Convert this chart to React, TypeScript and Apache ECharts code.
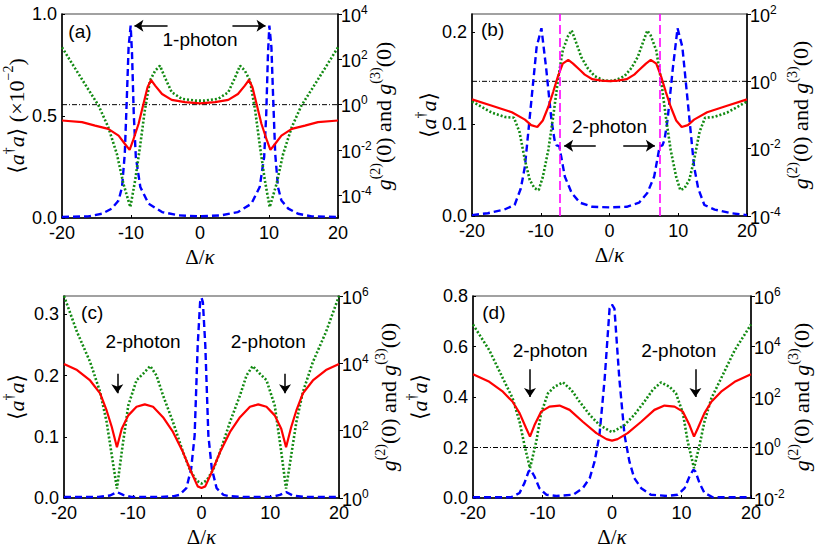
import React, { useEffect, useRef } from 'react';
import * as echarts from 'echarts';

// ---------- Panel (a) ----------
const aRedX = [-20, -17.1, -15.2, -13.3, -11.8, -10.9, -10.2, -9.7, -8.9, -8.2, -7.6, -7.1, -6.5, -5.5, -4.1, -2.2, 0, 2.2, 4.1, 5.5, 6.5, 7.1, 7.6, 8.2, 8.9, 9.7, 10.2, 10.9, 11.8, 13.3, 15.2, 17.1, 20];
const aRedY = [0.478, 0.470, 0.453, 0.437, 0.404, 0.364, 0.334, 0.380, 0.462, 0.559, 0.641, 0.677, 0.649, 0.608, 0.579, 0.568, 0.562, 0.568, 0.579, 0.608, 0.649, 0.677, 0.641, 0.559, 0.462, 0.380, 0.334, 0.364, 0.404, 0.437, 0.453, 0.470, 0.478];
const aGreenX = [-20, -18.1, -16.2, -14.7, -13.3, -12.05, -11.1, -10.1, -9.4, -8.7, -8.0, -7.25, -6.5, -5.8, -5.1, -4.1, -2.65, -0.7, 0.7, 2.65, 4.1, 5.1, 5.8, 6.5, 7.25, 8.0, 8.7, 9.4, 10.1, 11.1, 12.05, 13.3, 14.7, 16.2, 18.1, 20];
const aGreenLog = [2.53, 1.60, 0.68, -0.04, -0.99, -2.17, -3.49, -4.52, -3.34, -1.87, -0.26, 1.06, 1.5, 1.72, 1.21, 0.55, 0.26, 0.18, 0.18, 0.26, 0.55, 1.21, 1.72, 1.5, 1.06, -0.26, -1.87, -3.34, -4.52, -3.49, -2.17, -0.99, -0.04, 0.68, 1.60, 2.53];
const aBlueX = [-20, -16.2, -14.2, -12.8, -11.8, -11.3, -10.9, -10.6, -10.35, -10.05, -9.85, -9.6, -9.3, -8.65, -7.45, -5.5, -3.1, 0, 3.1, 5.5, 7.45, 8.65, 9.3, 9.6, 9.85, 10.05, 10.35, 10.6, 10.9, 11.3, 11.8, 12.8, 14.2, 16.2, 20];
const aBlueY = [0.005, 0.008, 0.021, 0.046, 0.086, 0.152, 0.315, 0.592, 0.837, 0.943, 0.804, 0.51, 0.299, 0.152, 0.07, 0.029, 0.013, 0.008, 0.013, 0.029, 0.07, 0.152, 0.299, 0.51, 0.804, 0.943, 0.837, 0.592, 0.315, 0.152, 0.086, 0.046, 0.021, 0.008, 0.005];

// ---------- Panel (b) ----------
const bRedX = [-20, -17.1, -14.2, -12.3, -11.4, -10.5, -9.7, -8.9, -8.2, -7.5, -6.8, -6.0, -5.3, -4.3, -3.6, -2.5, -1.2, 0, 1.2, 2.5, 3.6, 4.3, 5.3, 6.0, 6.8, 7.5, 8.2, 8.9, 9.7, 10.5, 11.4, 12.3, 14.2, 17.1, 20];
const bRedY = [0.127, 0.120, 0.113, 0.105, 0.099, 0.097, 0.104, 0.119, 0.135, 0.152, 0.166, 0.170, 0.166, 0.159, 0.154, 0.149, 0.1475, 0.147, 0.1475, 0.149, 0.154, 0.159, 0.166, 0.170, 0.166, 0.152, 0.135, 0.119, 0.104, 0.097, 0.099, 0.105, 0.113, 0.120, 0.127];
const bGreenX = [-20, -17.1, -15.2, -13.9, -13.1, -12.3, -11.6, -10.9, -10.3, -9.7, -8.9, -8.2, -7.5, -6.8, -6.0, -5.5, -4.8, -4.1, -3.2, -2.2, -1.0, 0, 1.0, 2.2, 3.2, 4.1, 4.8, 5.5, 6.0, 6.8, 7.5, 8.2, 8.9, 9.7, 10.3, 10.9, 11.6, 12.3, 13.1, 13.9, 15.2, 17.1, 20];
const bGreenLog = [-0.6, -0.93, -1.06, -1.08, -1.5, -2.34, -2.93, -3.18, -3.23, -2.84, -2.04, -1.06, 0.03, 0.92, 1.36, 1.51, 1.12, 0.72, 0.40, 0.16, 0.04, 0.01, 0.04, 0.16, 0.40, 0.72, 1.12, 1.51, 1.36, 0.92, 0.03, -1.06, -2.04, -2.84, -3.23, -3.18, -2.93, -2.34, -1.5, -1.08, -1.06, -0.93, -0.6];
const bBlueX = [-20, -17.7, -15.3, -13.8, -12.9, -12.3, -11.4, -10.6, -9.9, -9.2, -8.45, -8.0, -7.7, -7.3, -6.5, -5.5, -4.3, -2.5, 0, 2.5, 4.3, 5.5, 6.5, 7.3, 7.7, 8.0, 8.45, 9.2, 9.9, 10.6, 11.4, 12.3, 12.9, 13.8, 15.3, 17.7, 20];
const bBlueY = [0.001, 0.003, 0.007, 0.012, 0.03, 0.054, 0.123, 0.184, 0.2045, 0.16, 0.105, 0.083, 0.077, 0.076, 0.043, 0.025, 0.0145, 0.010, 0.0094, 0.010, 0.0145, 0.025, 0.043, 0.076, 0.077, 0.083, 0.105, 0.16, 0.2045, 0.184, 0.123, 0.054, 0.03, 0.012, 0.007, 0.003, 0.001];
const bResonanceX = [-7.3, 7.3];

// ---------- Panel (c) ----------
const cRedX = [-20, -18.1, -16.2, -14.75, -13.8, -13.05, -12.3, -11.6, -10.65, -9.45, -8.25, -7.05, -5.6, -4.15, -2.7, -1.5, -0.55, 0, 0.55, 1.5, 2.7, 4.15, 5.6, 7.05, 8.25, 9.45, 10.65, 11.6, 12.3, 13.05, 13.8, 14.75, 16.2, 18.1, 20];
const cRedY = [0.219, 0.209, 0.192, 0.171, 0.143, 0.116, 0.083, 0.113, 0.135, 0.149, 0.153, 0.149, 0.132, 0.108, 0.075, 0.0425, 0.019, 0.0165, 0.019, 0.0425, 0.075, 0.108, 0.132, 0.149, 0.153, 0.149, 0.135, 0.113, 0.083, 0.116, 0.143, 0.171, 0.192, 0.209, 0.219];
const cGreenX = [-20, -18.1, -16.2, -14.75, -13.8, -13.05, -12.3, -11.6, -10.65, -9.45, -8.5, -7.45, -6.55, -5.6, -4.15, -2.7, -1.75, -0.8, 0, 0.8, 1.75, 2.7, 4.15, 5.6, 6.55, 7.45, 8.5, 9.45, 10.65, 11.6, 12.3, 13.05, 13.8, 14.75, 16.2, 18.1, 20];
const cGreenLog = [6.0, 4.93, 4.04, 3.15, 2.26, 1.27, 0.28, 1.37, 2.75, 3.5, 3.69, 3.92, 3.64, 3.05, 2.26, 1.37, 0.87, 0.53, 0.43, 0.53, 0.87, 1.37, 2.26, 3.05, 3.64, 3.92, 3.69, 3.5, 2.75, 1.37, 0.28, 1.27, 2.26, 3.15, 4.04, 4.93, 6.0];
const cBlueX = [-20, -15, -13.3, -12.3, -11.4, -10.2, -6, -4, -3.2, -2.2, -1.5, -1.0, -0.55, -0.2, 0, 0.2, 0.55, 1.0, 1.5, 2.2, 3.2, 4, 6, 10.2, 11.4, 12.3, 13.3, 15, 20];
const cBlueY = [0.0016, 0.0018, 0.004, 0.0098, 0.005, 0.0018, 0.0018, 0.003, 0.005, 0.016, 0.048, 0.102, 0.25, 0.32, 0.327, 0.32, 0.25, 0.102, 0.048, 0.016, 0.005, 0.003, 0.0018, 0.0018, 0.005, 0.0098, 0.004, 0.0018, 0.0016];

// ---------- Panel (d) ----------
const dRedX = [-20, -17.65, -15.7, -14.3, -13.3, -12.35, -11.8, -11.15, -10.2, -9.0, -7.55, -6.1, -4.2, -2.25, -0.8, 0, 0.8, 2.25, 4.2, 6.1, 7.55, 9.0, 10.2, 11.15, 11.8, 12.35, 13.3, 14.3, 15.7, 17.65, 20];
const dRedY = [0.49, 0.460, 0.421, 0.381, 0.336, 0.276, 0.243, 0.289, 0.342, 0.362, 0.366, 0.349, 0.302, 0.257, 0.233, 0.227, 0.233, 0.257, 0.302, 0.349, 0.366, 0.362, 0.342, 0.289, 0.243, 0.276, 0.336, 0.381, 0.421, 0.460, 0.49];
const dGreenX = [-20, -17.65, -15.7, -14.3, -13.3, -12.6, -11.8, -10.9, -10.2, -9.2, -8.25, -7.05, -5.85, -4.65, -3.2, -1.8, -0.35, 0, 0.35, 1.8, 3.2, 4.65, 5.85, 7.05, 8.25, 9.2, 10.2, 10.9, 11.8, 12.6, 13.3, 14.3, 15.7, 17.65, 20];
const dGreenLog = [4.87, 3.85, 2.74, 1.95, 1.02, 0.10, -0.82, 0.23, 1.36, 2.15, 2.41, 2.58, 2.28, 1.81, 1.29, 0.89, 0.66, 0.61, 0.66, 0.89, 1.29, 1.81, 2.28, 2.58, 2.41, 2.15, 1.36, 0.23, -0.82, 0.10, 1.02, 1.95, 2.74, 3.85, 4.87];
const dBlueX = [-20, -14.5, -13.3, -12.6, -12.0, -11.7, -11.15, -10.45, -9.45, -8.0, -5.6, -4.2, -3.2, -2.5, -1.8, -1.05, -0.35, 0, 0.35, 1.05, 1.8, 2.5, 3.2, 4.2, 5.6, 8.0, 9.45, 10.45, 11.15, 11.7, 12.0, 12.6, 13.3, 14.5, 20];
const dBlueY = [0.003, 0.003, 0.02, 0.059, 0.105, 0.112, 0.085, 0.039, 0.013, 0.008, 0.013, 0.039, 0.079, 0.145, 0.25, 0.474, 0.75, 0.766, 0.75, 0.474, 0.25, 0.145, 0.079, 0.039, 0.013, 0.008, 0.013, 0.039, 0.085, 0.112, 0.105, 0.059, 0.02, 0.003, 0.003];

// g = 1 reference level (log10 g = 0)
const unityX = [-20, 20];
const unityLog = [0, 0];

// tick values
const xTicks = [-20, -10, 0, 10, 20];
const aLeftTicks = [0, 0.5, 1.0];
const bLeftTicks = [0, 0.1, 0.2];
const cLeftTicks = [0, 0.1, 0.2, 0.3];
const dLeftTicks = [0, 0.2, 0.4, 0.6, 0.8];
const aRightTicks = [-4, -2, 0, 2, 4];
const bRightTicks = [-4, -2, 0, 2];
const cRightTicks = [0, 2, 4, 6];
const dRightTicks = [-2, 0, 2, 4, 6];

const zip = (xs: number[], ys: number[]) => xs.map((x, i) => [x, ys[i]]);

const SANS = "'Liberation Sans', Arial, Helvetica, sans-serif";
const SERIF = "'Liberation Serif', 'DejaVu Serif', 'Times New Roman', serif";

const RED = '#ff0000';
const GREEN = '#128a12';
const BLUE = '#0000ff';

export default function App() {
  const ref = useRef<HTMLDivElement>(null);

  useEffect(() => {
    if (!ref.current) return;
    const chart = echarts.init(ref.current, null, { renderer: 'svg' });

    const panels = [
      {
        grid: { left: 62, top: 14, width: 276, height: 204 },
        lMax: 1.0, lInt: 0.5, lTicks: aLeftTicks, rMin: -5, rMax: 4, rInt: 1, rTicks: aRightTicks,
        lName: '{r|⟨}{i|a}{s|†}{i|a}{r|⟩ (×10}{s|−2}{r|)}', lGap: 35, rGap: 30,
        red: zip(aRedX, aRedY), green: zip(aGreenX, aGreenLog), blue: zip(aBlueX, aBlueY), unity: true,
        arrows: [[[-4.7, 0.943], [-9.5, 0.943]], [[4.7, 0.943], [9.5, 0.943]]],
        texts: [{ c: [-17.4, 0.914], t: '(a)' }, { c: [0, 0.876], t: '1-photon' }],
        vlines: [] as number[],
      },
      {
        grid: { left: 472, top: 14, width: 275, height: 202 },
        lMax: 0.22, lInt: 0.1, lTicks: bLeftTicks, rMin: -4, rMax: 2, rInt: 2, rTicks: bRightTicks,
        lName: '{r|⟨}{i|a}{s|†}{i|a}{r|⟩}', lGap: 33, rGap: 38,
        red: zip(bRedX, bRedY), green: zip(bGreenX, bGreenLog), blue: zip(bBlueX, bBlueY), unity: true,
        arrows: [[[-2.0, 0.0766], [-6.6, 0.0766]], [[2.0, 0.0766], [6.6, 0.0766]]],
        texts: [{ c: [-17.0, 0.2028], t: '(b)' }, { c: [0, 0.097], t: '2-photon' }],
        vlines: bResonanceX,
      },
      {
        grid: { left: 62, top: 296, width: 277, height: 202 },
        lMax: 0.33, lInt: 0.1, lTicks: cLeftTicks, rMin: 0, rMax: 6, rInt: 2, rTicks: cRightTicks,
        lName: '{r|⟨}{i|a}{s|†}{i|a}{r|⟩}', lGap: 37, rGap: 34,
        red: zip(cRedX, cRedY), green: zip(cGreenX, cGreenLog), blue: zip(cBlueX, cBlueY), unity: false,
        arrows: [[[-12.25, 0.203], [-12.25, 0.171]], [[12.15, 0.203], [12.15, 0.171]]],
        texts: [{ c: [-15.9, 0.3026], t: '(c)' }, { c: [-8.5, 0.255], t: '2-photon' }, { c: [9.7, 0.255], t: '2-photon' }],
        vlines: [] as number[],
      },
      {
        grid: { left: 473, top: 296, width: 278, height: 202 },
        lMax: 0.8, lInt: 0.2, lTicks: dLeftTicks, rMin: -2, rMax: 6, rInt: 2, rTicks: dRightTicks,
        lName: '{r|⟨}{i|a}{s|†}{i|a}{r|⟩}', lGap: 43, rGap: 35,
        red: zip(dRedX, dRedY), green: zip(dGreenX, dGreenLog), blue: zip(dBlueX, dBlueY), unity: true,
        arrows: [[[-11.8, 0.51], [-11.8, 0.40]], [[12.0, 0.51], [12.0, 0.40]]],
        texts: [{ c: [-17.0, 0.734], t: '(d)' }, { c: [-8.9, 0.585], t: '2-photon' }, { c: [9.6, 0.585], t: '2-photon' }],
        vlines: [] as number[],
      },
    ];

    const nameRich = {
      r: { fontFamily: SERIF, fontSize: 22, color: '#000', verticalAlign: 'bottom', padding: [4, 0, 0, 0] },
      i: { fontFamily: SERIF, fontSize: 22, color: '#000', fontStyle: 'italic', verticalAlign: 'bottom', padding: [4, 0, 0, 0] },
      s: { fontFamily: SERIF, fontSize: 14, color: '#000', verticalAlign: 'top' },
    };
    const xNameRich = {
      r: { fontFamily: SERIF, fontSize: 21, color: '#000' },
      i: { fontFamily: SERIF, fontSize: 21, color: '#000', fontStyle: 'italic' },
      g: { fontFamily: SERIF, fontSize: 21, color: '#000' },
    };

    const isTick = (ticks: number[], v: number) => ticks.some((t) => Math.abs(t - v) < 1e-6);

    const xAxis = panels.map((p, i) => ({
      type: 'value',
      gridIndex: i,
      min: -20,
      max: 20,
      interval: 10,
      name: '{g|Δ}{r|/}{i|κ}',
      nameLocation: 'middle',
      nameGap: 28,
      nameMoveOverlap: false,
      nameTextStyle: { fontFamily: SERIF, fontSize: 21, color: '#000', rich: xNameRich },
      axisLine: { show: true, onZero: false, lineStyle: { color: '#000', width: 1.5 } },
      axisTick: { show: true, inside: true, length: 3, lineStyle: { color: '#000', width: 1 } },
      axisLabel: {
        fontFamily: SANS, fontSize: 18, color: '#000', margin: 6,
        formatter: (v: number) => (isTick(xTicks, v) ? String(v) : ''),
      },
      splitLine: { show: false },
    }));

    const yAxis: any[] = [];
    panels.forEach((p, i) => {
      yAxis.push({
        type: 'value',
        gridIndex: i,
        position: 'left',
        min: 0,
        max: p.lMax,
        interval: p.lInt,
        name: p.lName,
        nameLocation: 'middle',
        nameRotate: 90,
        nameGap: p.lGap,
        nameMoveOverlap: false,
        nameTextStyle: { fontFamily: SERIF, fontSize: 22, color: '#000', rich: nameRich },
        axisLine: { show: true, onZero: false, lineStyle: { color: '#000', width: 1.5 } },
        axisTick: { show: true, inside: true, length: 3, customValues: p.lTicks, lineStyle: { color: '#000', width: 1 } },
        axisLabel: {
          fontFamily: SANS, fontSize: 18, color: '#000', margin: 5,
          customValues: p.lTicks,
          formatter: (v: number) => (isTick(p.lTicks, v) ? v.toFixed(1) : ''),
        },
        splitLine: { show: false },
      });
      yAxis.push({
        type: 'value',
        gridIndex: i,
        position: 'right',
        min: p.rMin,
        max: p.rMax,
        interval: p.rInt,
        name: '{i|g}{s|(2)}{r|(0) and }{i|g}{s|(3)}{r|(0)}',
        nameLocation: 'middle',
        nameRotate: 90,
        nameGap: p.rGap,
        nameMoveOverlap: false,
        nameTextStyle: { fontFamily: SERIF, fontSize: 21, color: '#000', rich: nameRich },
        axisLine: { show: true, onZero: false, lineStyle: { color: '#000', width: 1.5 } },
        axisTick: { show: true, inside: false, length: 4, customValues: p.rTicks, lineStyle: { color: '#000', width: 1 } },
        axisLabel: {
          fontFamily: SANS, fontSize: 18, color: '#000', margin: 3,
          customValues: p.rTicks,
          formatter: (v: number) => (isTick(p.rTicks, v) ? `{b|10}{s|${Math.round(v)}}` : ''),
          rich: {
            b: { fontFamily: SANS, fontSize: 18, color: '#000', verticalAlign: 'bottom', padding: [3, 0, 0, 0] },
            s: { fontFamily: SANS, fontSize: 12, color: '#000', verticalAlign: 'top' },
          },
        },
        splitLine: { show: false },
      });
    });

    const series: any[] = [];
    panels.forEach((p, i) => {
      const L = 2 * i;
      const R = 2 * i + 1;
      if (p.unity) {
        series.push({
          type: 'line', xAxisIndex: i, yAxisIndex: R, data: zip(unityX, unityLog),
          symbol: 'none', silent: true,
          lineStyle: { color: '#000', width: 1, type: [5, 2, 1, 2] },
        });
      }
      series.push({
        type: 'line', xAxisIndex: i, yAxisIndex: L, data: p.blue,
        symbol: 'none', silent: true,
        lineStyle: { color: BLUE, width: 2.4, type: [7, 4] },
      });
      series.push({
        type: 'line', xAxisIndex: i, yAxisIndex: R, data: p.green,
        symbol: 'none', silent: true,
        lineStyle: { color: GREEN, width: 2.6, type: [2, 2] },
        markLine: p.vlines.length
          ? {
              silent: true, symbol: 'none', animation: false,
              label: { show: false },
              lineStyle: { color: '#ff00ff', width: 1.6, type: [9, 4] },
              data: p.vlines.map((x) => ({ xAxis: x })),
            }
          : undefined,
      });
      series.push({
        type: 'line', xAxisIndex: i, yAxisIndex: L, data: p.red,
        symbol: 'none', silent: true,
        lineStyle: { color: RED, width: 2.2 },
        markLine: {
          silent: true, animation: false,
          symbol: ['none', 'arrow'], symbolSize: 9,
          label: { show: false },
          lineStyle: { color: '#000', width: 1.5, type: 'solid' },
          data: p.arrows.map((a) => [{ coord: a[0] }, { coord: a[1] }]),
        },
        markPoint: {
          silent: true, animation: false,
          symbol: 'circle', symbolSize: 1,
          itemStyle: { color: 'rgba(0,0,0,0)' },
          label: { show: true, position: 'inside', color: '#000', fontFamily: SANS, fontSize: 19 },
          data: p.texts.map((t) => ({ coord: t.c, value: 0, label: { formatter: t.t } })),
        },
      });
    });

    chart.setOption({
      animation: false,
      textStyle: { fontFamily: SANS, color: '#000' },
      grid: panels.map((p) => ({ ...p.grid, show: true, borderColor: '#444', borderWidth: 1.2, backgroundColor: 'transparent' })),
      xAxis,
      yAxis,
      series,
    });

    return () => chart.dispose();
  }, []);

  return <div ref={ref} style={{ position: 'absolute', left: 0, top: 0, width: 817, height: 552, background: '#fff' }} />;
}
